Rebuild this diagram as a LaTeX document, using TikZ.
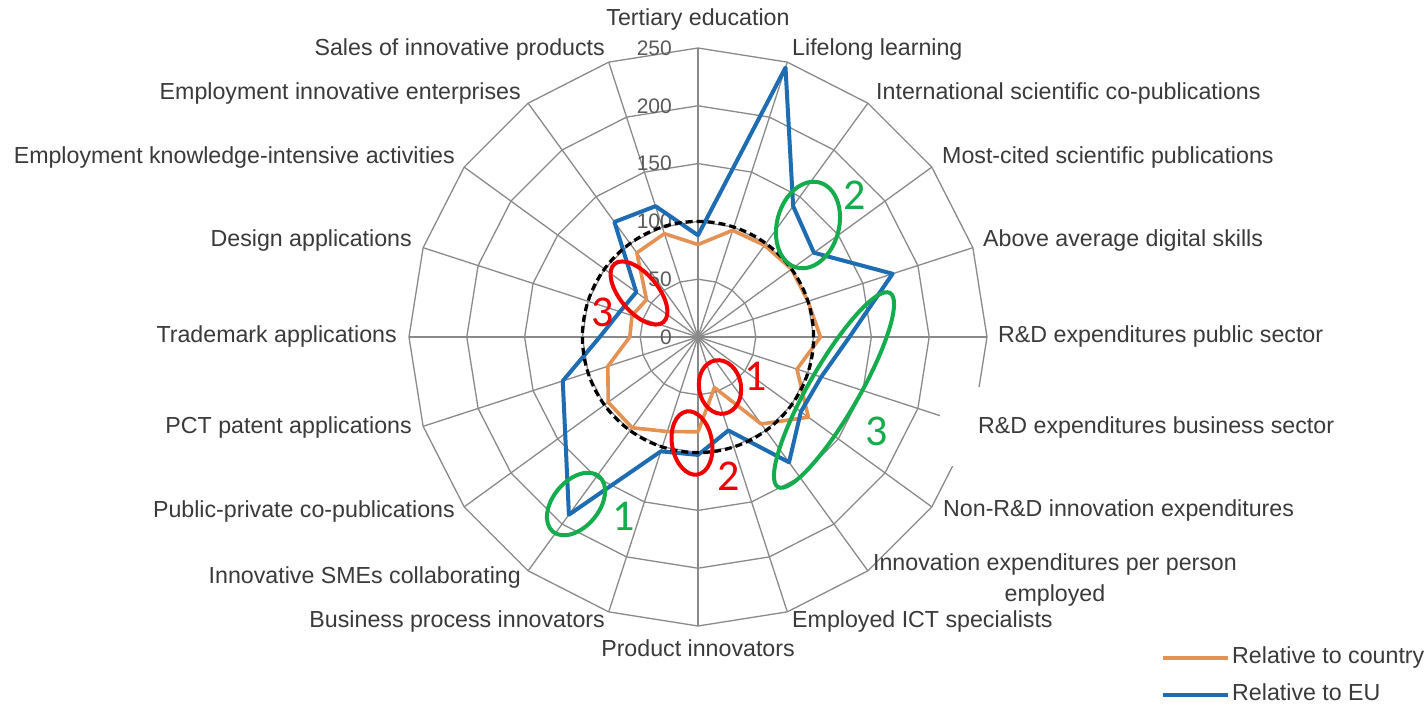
\documentclass[tikz,border=0pt]{standalone}
\usepackage{fontspec}
\setmainfont{Liberation Sans}
\newfontfamily\numfont{Carlito}
\definecolor{gridgray}{RGB}{138,138,138}
\definecolor{txtgray}{RGB}{58,58,58}
\definecolor{tickgray}{RGB}{90,90,90}
\definecolor{eublue}{RGB}{30,108,178}
\definecolor{ctorange}{RGB}{228,146,84}
\definecolor{markgreen}{RGB}{20,172,76}
\definecolor{markred}{RGB}{240,0,0}
\begin{document}
\begin{tikzpicture}[x=1pt,y=1pt,
  gridline/.style={draw=gridgray, line width=1.3pt},
  axlabel/.style={inner sep=0pt, text=txtgray, font=\fontsize{23.2}{31}\selectfont, text height=16pt, text depth=5pt},
  ticklabel/.style={inner sep=0pt, text=tickgray, font=\fontsize{21}{24}\selectfont},
  blueline/.style={draw=eublue, line width=4pt, line join=round},
  orangeline/.style={draw=ctorange, line width=3.6pt, line join=round},
  dashring/.style={draw=black, line width=3.2pt, dash pattern=on 7pt off 4pt},
  greenmark/.style={draw=markgreen, line width=4pt},
  redmark/.style={draw=markred, line width=4pt},
  greennum/.style={inner sep=0pt, text=markgreen, font=\numfont\fontsize{44}{44}\selectfont},
  rednum/.style={inner sep=0pt, text=markred, font=\numfont\fontsize{44}{44}\selectfont}]
\def\k{1.156}
\useasboundingbox[fill=white] (-698,-368) rectangle (728,337);
% grid rings
\foreach \r in {50,100,150,200,250}
  \draw[gridline] (90:{\r*\k}) \foreach \i in {1,...,19}{ -- ({90-18*\i}:{\r*\k})} -- cycle;
% spokes
\foreach \i in {0,...,19}
  \draw[gridline] (0,0) -- ({90-18*\i}:{250*\k});
% white patch behind erased label area
\fill[white] (242,-50) rectangle (640,-129);
% tick labels
\foreach \t in {0,50,100,150,200,250}
  \node[ticklabel, anchor=east] (t\t) at (-26,{\t*\k}) {\t};
% data coordinates
\foreach \v [count=\i from 0] in {80,97,98,100,100,106,90,118,93,46,82,86,97,96,82,59,60,55,90,94}
  \coordinate (o\i) at ({90-18*\i}:{\v*\k});
\foreach \v [count=\i from 0] in {88,245,140,124,177,131,112,110,134,85,102,104,190,142,123,85,71,66,123,119}
  \coordinate (b\i) at ({90-18*\i}:{\v*\k});
\draw[orangeline] (o0) \foreach \i in {1,...,19}{ -- (o\i)} -- cycle;
\draw[blueline] (b0) \foreach \i in {1,...,19}{ -- (b\i)} -- cycle;
\draw[dashring] (0,0) circle[radius={100*\k}];
% axis labels
\node[axlabel] (l0) at (0,317) {Tertiary education};
\node[axlabel, anchor=west] (l1) at (94,287) {Lifelong learning};
\node[axlabel, anchor=west] (l2) at (178,243) {International scientific co-publications};
\node[axlabel, anchor=west] (l3) at (244,179) {Most-cited scientific publications};
\node[axlabel, anchor=west] (l4) at (285,96) {Above average digital skills};
\node[axlabel, anchor=west] (l5) at (300,0) {R\&D expenditures public sector};
\node[axlabel, anchor=west] (l6) at (280,-91) {R\&D expenditures business sector};
\node[axlabel, anchor=west] (l7) at (245,-174) {Non-R\&D innovation expenditures};
\node[axlabel, align=center, text height=, text depth=] (l8) at (357,-243) {Innovation expenditures per person\\employed};
\node[axlabel, anchor=west] (l9) at (94,-285) {Employed ICT specialists};
\node[axlabel] (l10) at (0,-314) {Product innovators};
\node[axlabel, anchor=east] (l11) at (-93,-285) {Business process innovators};
\node[axlabel, anchor=east] (l12) at (-177,-241) {Innovative SMEs collaborating};
\node[axlabel, anchor=east] (l13) at (-243,-175) {Public-private co-publications};
\node[axlabel, anchor=east] (l14) at (-286,-91) {PCT patent applications};
\node[axlabel, anchor=east] (l15) at (-301,0) {Trademark applications};
\node[axlabel, anchor=east] (l16) at (-286,96) {Design applications};
\node[axlabel, anchor=east] (l17) at (-243,179) {Employment knowledge-intensive activities};
\node[axlabel, anchor=east] (l18) at (-177,243) {Employment innovative enterprises};
\node[axlabel, anchor=east] (l19) at (-93,287) {Sales of innovative products};
% annotation ellipses
\draw[greenmark] (110,112) ellipse[x radius=31, y radius=44, rotate=-15];
\draw[greenmark] (136,-53) ellipse[x radius=112, y radius=25, rotate=60];
\draw[greenmark] (-122,-167) ellipse[x radius=36, y radius=23, rotate=50];
\draw[redmark] (22,-50) ellipse[x radius=21, y radius=27, rotate=10];
\draw[redmark] (-6,-106) ellipse[x radius=20, y radius=32, rotate=10];
\draw[redmark] (-59,44) ellipse[x radius=38, y radius=19, rotate=-50];
\node[greennum] (g2) at (157,142) {2};
\node[greennum] (g3) at (179,-94) {3};
\node[greennum] (g1) at (-74,-179) {1};
\node[rednum] (r1) at (58,-39) {1};
\node[rednum] (r2) at (31,-139) {2};
\node[rednum] (r3) at (-95,25) {3};
% legend
\coordinate (lo1) at (465,-321);
\coordinate (lo2) at (530,-321);
\coordinate (lb1) at (465,-358);
\coordinate (lb2) at (530,-358);
\draw[orangeline] (lo1) -- (lo2);
\draw[blueline] (lb1) -- (lb2);
\node[axlabel, anchor=west] (leg1) at (534,-321) {Relative to country};
\node[axlabel, anchor=west] (leg2) at (534,-358) {Relative to EU};
\end{tikzpicture}
\end{document}
